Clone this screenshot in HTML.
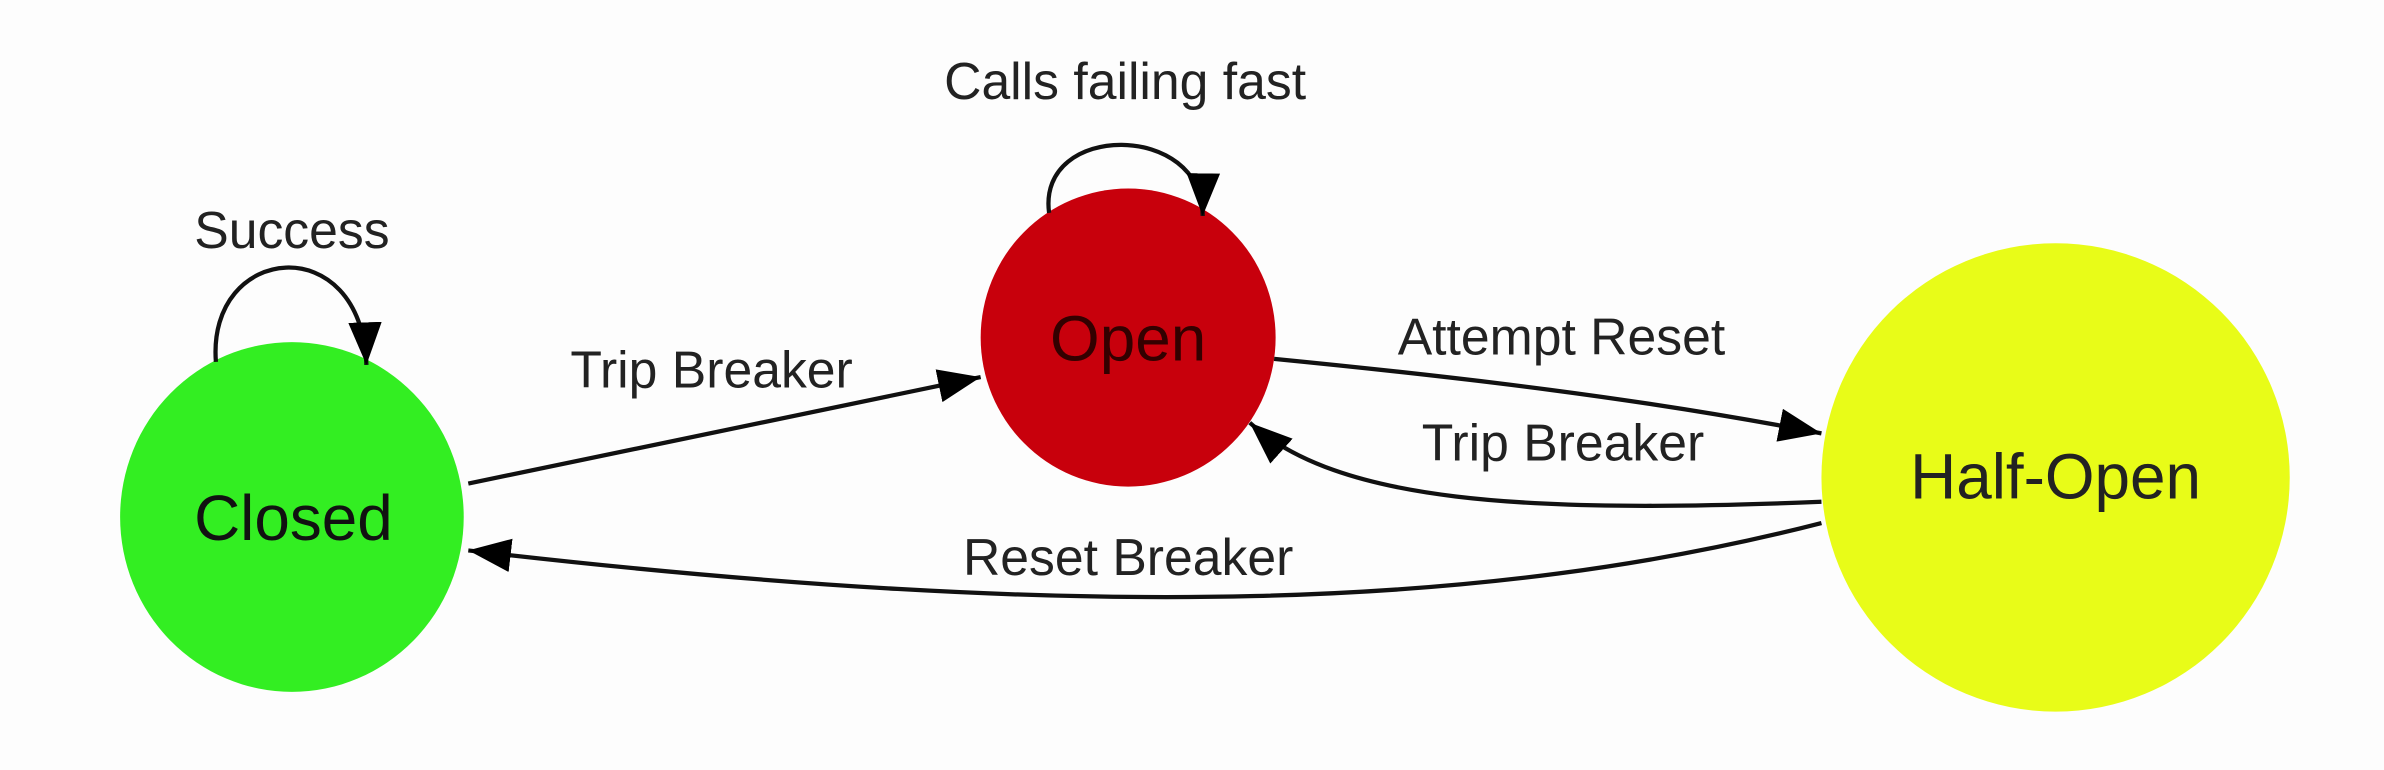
<!DOCTYPE html>
<html><head><meta charset="utf-8"><style>
html,body{margin:0;padding:0;background:#fdfdfd;}
svg{display:block;}
text{font-family:"Liberation Sans",sans-serif;fill:#222;}
</style></head><body>
<svg width="2384" height="770" viewBox="0 0 1568 506.4" preserveAspectRatio="none" xmlns="http://www.w3.org/2000/svg">
<defs>
<marker id="ar" viewBox="0 0 10 10" refX="10" refY="5" markerWidth="28" markerHeight="22" orient="auto" markerUnits="userSpaceOnUse" preserveAspectRatio="none">
<path d="M0,0 L10,5 L0,10 z" fill="#000"/>
</marker>
</defs>
<ellipse cx="192" cy="340" rx="113" ry="115" fill="#33ee22"/>
<ellipse cx="742" cy="222" rx="97" ry="98" fill="#c8000c"/>
<ellipse cx="1352" cy="314" rx="154" ry="154" fill="#e8fc18"/>
<g fill="none" stroke="#111" stroke-width="2.8">
<path d="M142,238 C136,160 238,150 241,240" marker-end="url(#ar)"/>
<path d="M690,140 C682,80 792,80 791,142" marker-end="url(#ar)"/>
<path d="M308,318 L645,248" marker-end="url(#ar)"/>
<path d="M838,236 C960,248 1080,262 1198,285" marker-end="url(#ar)"/>
<path d="M1198,330 C1000,338 880,330 822,278" marker-end="url(#ar)"/>
<path d="M1198,344 C980,400 720,410 308,362" marker-end="url(#ar)"/>
</g>
<g font-size="34" text-anchor="middle">
<text x="192" y="163">Success</text>
<text x="740" y="65">Calls failing fast</text>
<text x="468" y="255">Trip Breaker</text>
<text x="1027" y="233">Attempt Reset</text>
<text x="1028" y="303">Trip Breaker</text>
<text x="742" y="378">Reset Breaker</text>
</g>
<g font-size="42" text-anchor="middle">
<text x="193" y="355" style="fill:#111">Closed</text>
<text x="742" y="237" style="fill:#300">Open</text>
<text x="1352" y="328" style="fill:#222">Half-Open</text>
</g>
</svg>
</body></html>
